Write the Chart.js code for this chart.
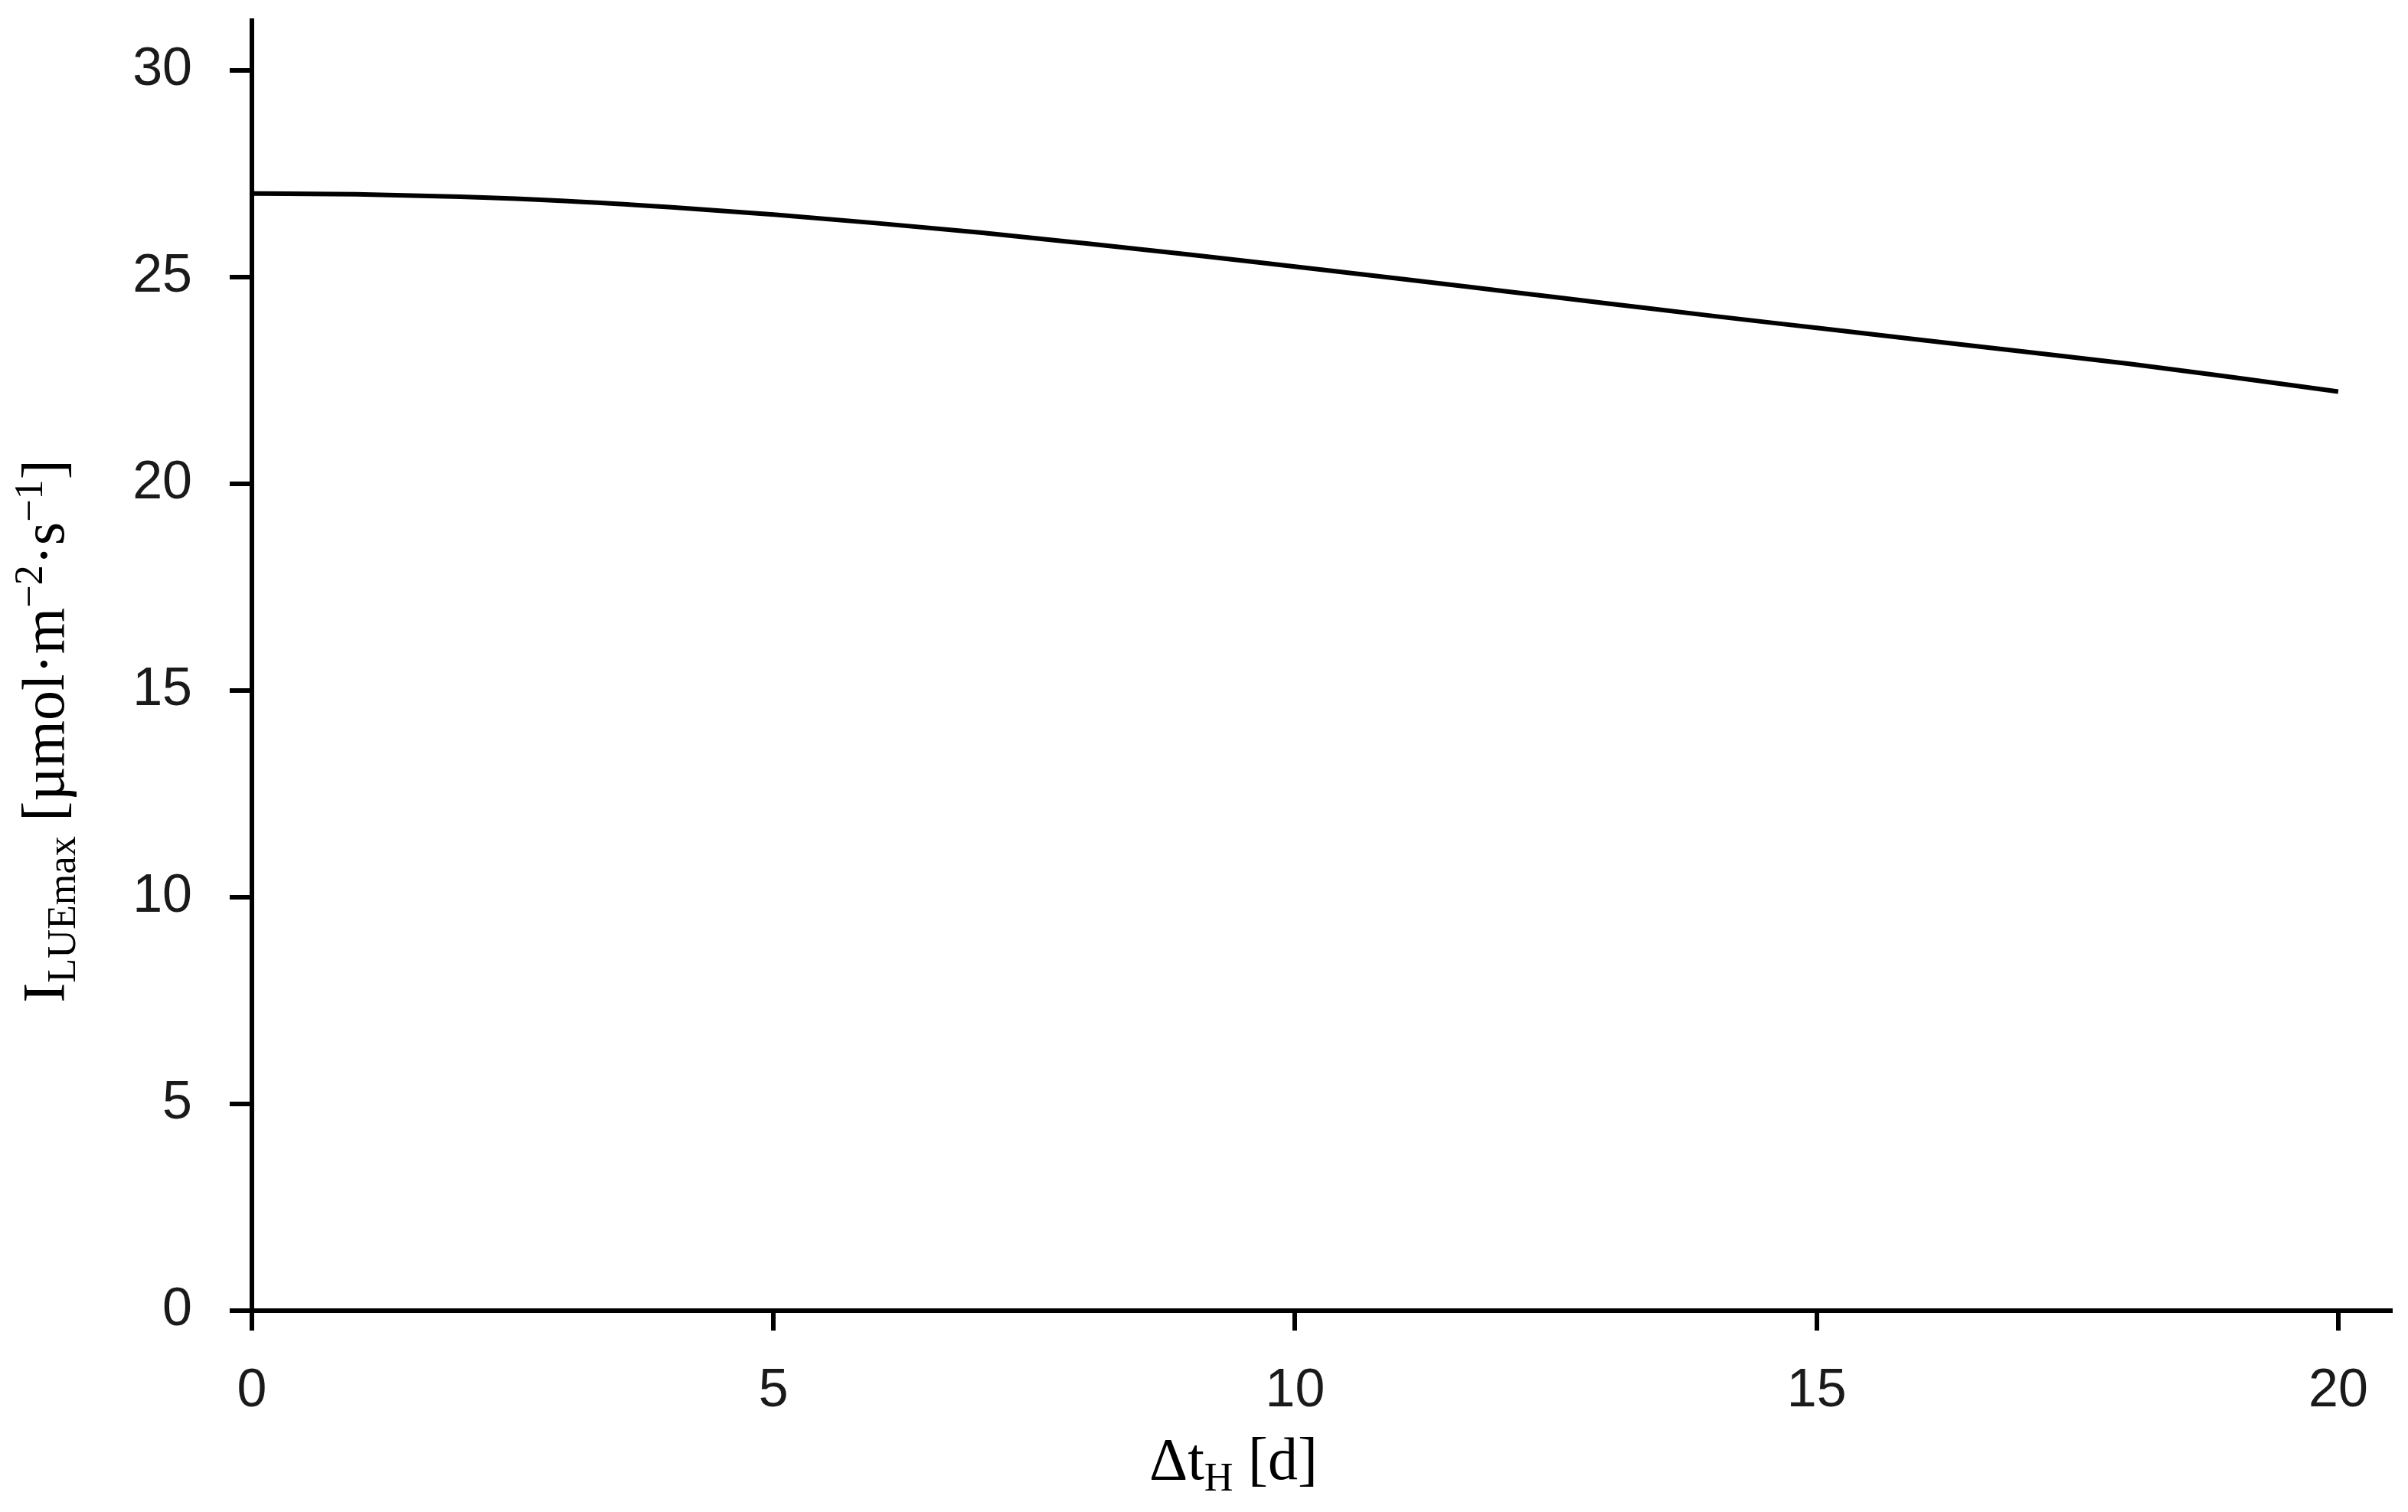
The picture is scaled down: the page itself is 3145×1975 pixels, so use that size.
<!DOCTYPE html>
<html><head><meta charset="utf-8">
<script src="https://cdn.jsdelivr.net/npm/chart.js@4.4.1/dist/chart.umd.min.js"></script>
<style>html,body{margin:0;padding:0;background:#fff}#wrap{width:3145px;height:1975px;position:relative}</style>
</head><body><div id="wrap"><canvas id="c" width="3145" height="1975"></canvas></div>
<script>
// Data
const deltaT  = [0,1,2,3,4,5,6,7,8,9,10,11,12,13,14,15,16,17,18,19,20];
const iLUEmax = [27.02,27.00,26.94,26.84,26.69,26.51,26.30,26.07,25.81,25.54,25.25,24.96,24.66,24.36,24.06,23.77,23.48,23.19,22.90,22.57,22.23];
const xTicks = [0,5,10,15,20];
const yTicks = [0,5,10,15,20,25,30];
const xTitleParts = [{t:'Δt',k:'n'},{t:'H',k:'sub'},{t:' [d]',k:'n'}];
const yTitleParts = [{t:'I',k:'n'},{t:'LUEmax',k:'sub'},{t:' [µmol·m',k:'n'},{t:'−2',k:'sup'},{t:'·s',k:'n'},{t:'−1',k:'sup'},{t:']',k:'n'}];

const TICK_FONT = {family:'"Liberation Sans", Arial, sans-serif', size:70};
const TITLE_FAMILY = '"Liberation Serif", "Times New Roman", serif';
const TITLE_SIZE = 78;

function drawRich(ctx, parts, size) {
  // returns total width; draws starting at current origin (0, 0 baseline)
  let x = 0;
  for (const p of parts) {
    let fs = size, dy = 0;
    if (p.k === 'sub') { fs = size*0.67; dy = size*0.19; }
    if (p.k === 'sup') { fs = size*0.67; dy = -size*0.36; }
    ctx.font = fs + 'px ' + TITLE_FAMILY;
    ctx.fillText(p.t, x, dy);
    x += ctx.measureText(p.t).width;
  }
  return x;
}
function measureRich(ctx, parts, size) {
  let x = 0;
  for (const p of parts) {
    const fs = p.k === 'n' ? size : size*0.67;
    ctx.font = fs + 'px ' + TITLE_FAMILY;
    x += ctx.measureText(p.t).width;
  }
  return x;
}

const titlePlugin = {
  id: 'richTitles',
  afterDraw(chart) {
    const ctx = chart.ctx;
    ctx.save();
    ctx.fillStyle = '#000';
    ctx.textBaseline = 'alphabetic';
    ctx.textAlign = 'left';
    // x title
    const wx = measureRich(ctx, xTitleParts, TITLE_SIZE);
    ctx.save();
    ctx.translate(1611 - wx/2, 1932);
    drawRich(ctx, xTitleParts, TITLE_SIZE);
    ctx.restore();
    // y title (rotated)
    const wy = measureRich(ctx, yTitleParts, TITLE_SIZE);
    ctx.save();
    ctx.translate(83, 955 + wy/2);
    ctx.rotate(-Math.PI/2);
    drawRich(ctx, yTitleParts, TITLE_SIZE);
    ctx.restore();
    ctx.restore();
  }
};

new Chart(document.getElementById('c'), {
  type: 'line',
  data: {
    datasets: [{
      data: deltaT.map((x,i) => ({x, y: iLUEmax[i]})),
      borderColor: '#000',
      borderWidth: 6,
      pointRadius: 0,
      fill: false,
      cubicInterpolationMode: 'monotone'
    }]
  },
  options: {
    responsive: false,
    animation: false,
    devicePixelRatio: 1,
    layout: {padding: {top: 27, right: 23, left: 0, bottom: 0}},
    plugins: {legend: {display: false}, tooltip: {enabled: false}, title: {display: false}},
    scales: {
      x: {
        type: 'linear', min: 0, max: 20.5,
        afterBuildTicks: s => { s.ticks = xTicks.map(v => ({value: v})); },
        afterFit: s => { s.height = 263; s.paddingLeft = 0; s.paddingRight = 0; },
        ticks: {font: TICK_FONT, color: '#1a1a1a', padding: 38, maxRotation: 0, autoSkip: false},
        grid: {drawOnChartArea: false, drawTicks: true, tickLength: 26, color: '#000', lineWidth: 6},
        border: {display: true, color: '#000', width: 6}
      },
      y: {
        type: 'linear', min: 0, max: 31.2,
        afterBuildTicks: s => { s.ticks = yTicks.map(v => ({value: v})); },
        afterFit: s => { s.width = 329; s.paddingTop = 0; s.paddingBottom = 0; },
        ticks: {font: TICK_FONT, color: '#1a1a1a', padding: 49, autoSkip: false},
        grid: {drawOnChartArea: false, drawTicks: true, tickLength: 29, color: '#000', lineWidth: 6},
        border: {display: true, color: '#000', width: 6}
      }
    }
  },
  plugins: [titlePlugin]
});
</script>
</body></html>
